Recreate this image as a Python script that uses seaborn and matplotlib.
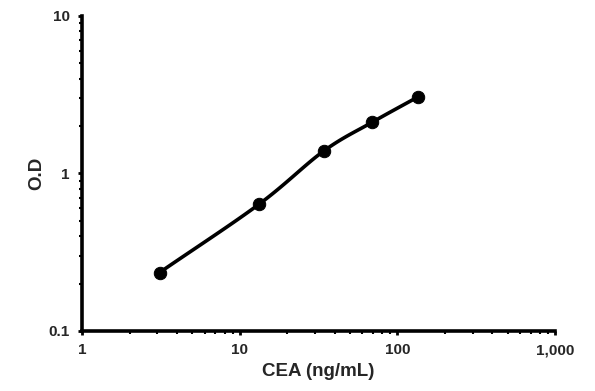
import numpy as np
import pandas as pd
import matplotlib
matplotlib.use("Agg")
import matplotlib.pyplot as plt
import matplotlib.ticker as mticker
import seaborn as sns

concentration = [3.1, 13.2, 34.0, 69.0, 135.0]
od = [0.235, 0.636, 1.385, 2.11, 3.06]
x_ticks = [1, 10, 100, 1000]
x_tick_labels = ["1", "10", "100", "1,000"]
y_ticks = [0.1, 1, 10]
y_tick_labels = ["0.1", "1", "10"]

sns.set_style("white")
plt.rcParams["font.family"] = ["Liberation Sans", "DejaVu Sans"]

df = pd.DataFrame({"conc": concentration, "od": od})

# smooth curve (Catmull-Rom through the points in log-log space)
lx = np.log10(df["conc"].to_numpy())
ly = np.log10(df["od"].to_numpy())
px = np.concatenate([[2 * lx[0] - lx[1]], lx, [2 * lx[-1] - lx[-2]]])
py = np.concatenate([[2 * ly[0] - ly[1]], ly, [2 * ly[-1] - ly[-2]]])
sx, sy = [], []
t = np.linspace(0, 1, 30)
for i in range(1, len(px) - 2):
    for arr, out in ((px, sx), (py, sy)):
        p0, p1, p2, p3 = arr[i - 1], arr[i], arr[i + 1], arr[i + 2]
        out.extend(0.5 * ((2 * p1) + (-p0 + p2) * t + (2 * p0 - 5 * p1 + 4 * p2 - p3) * t**2
                          + (-p0 + 3 * p1 - 3 * p2 + p3) * t**3))
curve = pd.DataFrame({"conc": 10 ** np.array(sx), "od": 10 ** np.array(sy)})

fig = plt.figure(figsize=(5.95, 3.91), dpi=100)
ax = fig.add_axes([0.138, 0.1535, 0.795, 0.806])

sns.lineplot(data=curve, x="conc", y="od", ax=ax, color="black", linewidth=2.6, sort=False)
sns.scatterplot(data=df, x="conc", y="od", ax=ax, color="black", s=80, edgecolor="black", zorder=5)

ax.set_xscale("log")
ax.set_yscale("log")
ax.set_xlim(1, 1000)
ax.set_ylim(0.1, 10)
ax.set_xticks(x_ticks)
ax.set_xticklabels(x_tick_labels)
ax.set_yticks(y_ticks)
ax.set_yticklabels(y_tick_labels)
ax.xaxis.set_minor_locator(mticker.LogLocator(base=10, subs=np.arange(2, 10)))
ax.yaxis.set_minor_locator(mticker.LogLocator(base=10, subs=np.arange(2, 10)))
ax.xaxis.set_minor_formatter(mticker.NullFormatter())
ax.yaxis.set_minor_formatter(mticker.NullFormatter())

for side in ("top", "right"):
    ax.spines[side].set_visible(False)
for side in ("left", "bottom"):
    ax.spines[side].set_linewidth(2.6)
    ax.spines[side].set_color("black")

ax.tick_params(which="major", direction="out", length=3, width=2, color="black",
               labelsize=11, pad=6)
ax.tick_params(which="minor", direction="out", length=2, width=1.5, color="black")
ax.tick_params(which="both", bottom=True, left=True)
for lab in ax.get_xticklabels() + ax.get_yticklabels():
    lab.set_fontweight("bold")

ax.set_xlabel("CEA (ng/mL)", fontsize=13.5, fontweight="bold", labelpad=4)
ax.set_ylabel("O.D", fontsize=13.5, fontweight="bold", labelpad=2)

fig.savefig("out.png", dpi=100)
